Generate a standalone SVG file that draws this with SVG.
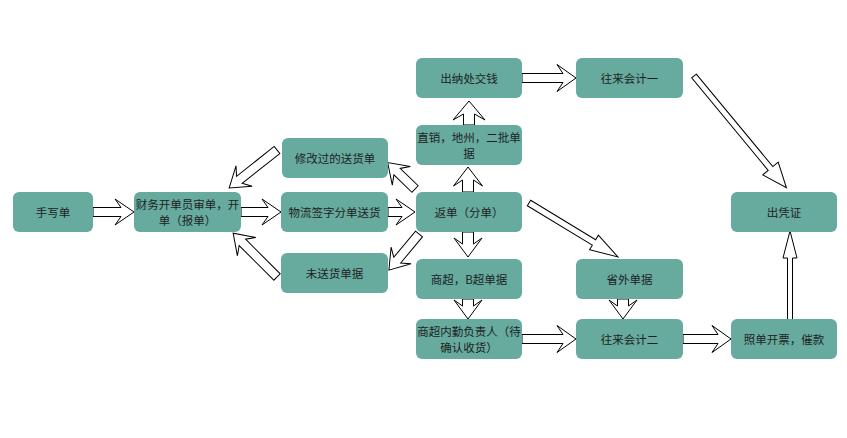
<svg xmlns="http://www.w3.org/2000/svg" width="847" height="438" viewBox="0 0 847 438">
<style>
.n rect{fill:#67AB9F;stroke:none}
.n text{font-family:"Noto Sans CJK SC","Noto Sans",sans-serif;font-size:11.5px;fill:#1e1e1e;text-anchor:middle;dominant-baseline:central}
.a{fill:#fff;stroke:#000;stroke-width:1;stroke-linejoin:miter}
</style>
<rect width="847" height="438" fill="#fff"/>
<g id="connectors">
<polygon class="a" transform="translate(93,212)" points="0,-4.5 28,-4.5 22,-13 41,0 22,13 28,4.5 0,4.5"/>
<polygon class="a" transform="translate(241,212)" points="0,-4.5 27,-4.5 21,-13 40,0 21,13 27,4.5 0,4.5"/>
<polygon class="a" transform="translate(388,212)" points="0,-4.5 14,-4.5 8,-13 27,0 8,13 14,4.5 0,4.5"/>
<polygon class="a" transform="translate(415,189) rotate(-136)" points="0,-4.5 25,-4.5 19,-13 38,0 19,13 25,4.5 0,4.5"/>
<polygon class="a" transform="translate(419,234) rotate(129.8)" points="0,-4.5 34,-4.5 28,-13 47,0 28,13 34,4.5 0,4.5"/>
<polygon class="a" transform="translate(277,150) rotate(141.6)" points="0,-4.5 48,-4.5 42,-13 61,0 42,13 48,4.5 0,4.5"/>
<polygon class="a" transform="translate(277,277) rotate(-135)" points="0,-4.5 49,-4.5 43,-13 62,0 43,13 49,4.5 0,4.5"/>
<polygon class="a" transform="translate(522,78)" points="0,-4.5 41,-4.5 35,-13.5 54,0 35,13.5 41,4.5 0,4.5"/>
<polygon class="a" transform="translate(522,339)" points="0,-4.5 41,-4.5 35,-13.5 54,0 35,13.5 41,4.5 0,4.5"/>
<polygon class="a" transform="translate(683,339)" points="0,-4.5 35,-4.5 29,-13.5 48,0 29,13.5 35,4.5 0,4.5"/>
<polygon class="a" transform="translate(468,192) rotate(-90)" points="0,-5.5 12,-5.5 6,-14.5 25,0 6,14.5 12,5.5 0,5.5"/>
<polygon class="a" transform="translate(469,125) rotate(-90)" points="0,-5.5 11,-5.5 5,-16 24,0 5,16 11,5.5 0,5.5"/>
<polygon class="a" transform="translate(468,232) rotate(90)" points="0,-5.5 12,-5.5 6,-14 25,0 6,14 12,5.5 0,5.5"/>
<polygon class="a" transform="translate(468,299) rotate(90)" points="0,-5.5 7,-5.5 1,-14 20,0 1,14 7,5.5 0,5.5"/>
<polygon class="a" transform="translate(623,299) rotate(90)" points="0,-5.5 7,-5.5 1,-14 20,0 1,14 7,5.5 0,5.5"/>
<polygon class="a" transform="translate(694,76) rotate(50.4)" points="0,-3 120,-3 120,-10 145,0 120,10 120,3 0,3"/>
<polygon class="a" transform="translate(529,203) rotate(31.25)" points="0,-3.2 76,-3.2 76,-8.5 104,0 76,8.5 76,3.2 0,3.2"/>
<polygon class="a" transform="translate(790,320) rotate(-90)" points="0,-2.5 62,-2.5 62,-7 89,0 62,7 62,2.5 0,2.5"/>
</g>
<g id="n1" class="n"><rect x="13" y="192" width="80" height="40" rx="6"/><text x="53" y="212">手写单</text></g>
<g id="n2" class="n"><rect x="134" y="192" width="107" height="40" rx="6"/><text x="187.5" y="204.2">财务开单员审单，开</text><text x="187.5" y="219.8">单（报单）</text></g>
<g id="n3" class="n"><rect x="281" y="192" width="107" height="40" rx="6"/><text x="334.5" y="212">物流签字分单送货</text></g>
<g id="n4" class="n"><rect x="282" y="138" width="106" height="40" rx="6"/><text x="335" y="158">修改过的送货单</text></g>
<g id="n5" class="n"><rect x="281" y="253" width="107" height="40" rx="6"/><text x="334.5" y="273">未送货单据</text></g>
<g id="n6" class="n"><rect x="416" y="192" width="106" height="40" rx="6"/><text x="469" y="212">返单（分单）</text></g>
<g id="n7" class="n"><rect x="416" y="125" width="106" height="40" rx="6"/><text x="469" y="137.2">直销，地州，二批单</text><text x="469" y="152.8">据</text></g>
<g id="n8" class="n"><rect x="416" y="58" width="106" height="40" rx="6"/><text x="469" y="78">出纳处交钱</text></g>
<g id="n9" class="n"><rect x="576" y="58" width="107" height="40" rx="6"/><text x="629.5" y="78">往来会计一</text></g>
<g id="n10" class="n"><rect x="416" y="259" width="106" height="40" rx="6"/><text x="469" y="279">商超，B超单据</text></g>
<g id="n11" class="n"><rect x="416" y="319" width="106" height="40" rx="6"/><text x="469" y="331.2">商超内勤负责人（待</text><text x="469" y="346.8">确认收货）</text></g>
<g id="n12" class="n"><rect x="576" y="259" width="107" height="40" rx="6"/><text x="629.5" y="279">省外单据</text></g>
<g id="n13" class="n"><rect x="576" y="319" width="107" height="40" rx="6"/><text x="629.5" y="339">往来会计二</text></g>
<g id="n14" class="n"><rect x="731" y="319" width="106" height="40" rx="6"/><text x="784" y="339">照单开票，催款</text></g>
<g id="n15" class="n"><rect x="731" y="192" width="106" height="40" rx="6"/><text x="784" y="212">出凭证</text></g>
</svg>
